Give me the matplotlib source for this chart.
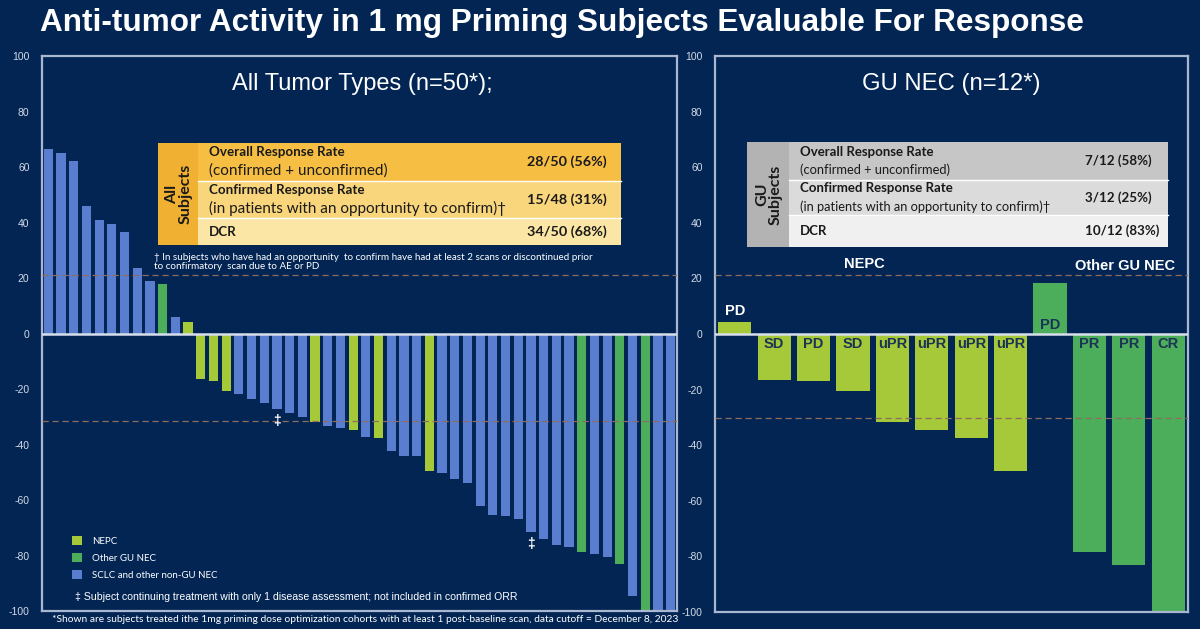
import matplotlib
matplotlib.use("Agg")
import matplotlib.pyplot as plt
from matplotlib.patches import Rectangle, Patch

W, H = 1200, 629
BG = "#022554"
FRAME = "#A9B7D1"
TICKC = "#D3DAE6"
DASH = "#8E6C5E"
DARK_TXT = "#1B3355"
SANS = "Liberation Sans"
CAL = "Lato"

# ---------------- data ----------------
title = "Anti-tumor Activity in 1 mg Priming Subjects Evaluable For Response"

left_title = "All Tumor Types (n=50*);"
left_values = [66.4, 65.2, 62.1, 45.8, 41.0, 39.5, 36.7, 23.5, 18.8, 17.8,
               6.1, 4.2, -16.5, -17.2, -20.9, -21.9, -23.6, -25.2, -27.2, -28.5,
               -30.1, -31.9, -33.5, -34.2, -34.9, -37.2, -37.5, -42.5, -44.2, -44.2,
               -49.5, -50.4, -52.5, -53.9, -62.0, -65.3, -65.8, -66.7, -71.5, -74.1,
               -76.1, -77.0, -78.6, -79.3, -80.4, -83.1, -94.6, -100, -100, -100]
# 0 = NEPC, 1 = Other GU NEC, 2 = SCLC and other non-GU NEC
left_groups = [2, 2, 2, 2, 2, 2, 2, 2, 2, 1,
               2, 0, 0, 0, 0, 2, 2, 2, 2, 2,
               2, 0, 2, 2, 0, 2, 0, 2, 2, 2,
               0, 2, 2, 2, 2, 2, 2, 2, 2, 2,
               2, 2, 1, 2, 2, 1, 2, 1, 2, 2]
group_names = ["NEPC", "Other GU NEC", "SCLC and other non-GU NEC"]
group_colors = ["#A6C93A", "#4CAD5B", "#5A7ECF"]
left_dagger_idx = [18, 38]

right_title = "GU NEC (n=12*)"
right_values = [4.4, -16.5, -17.0, -20.5, -31.6, -34.4, -37.4, -49.3,
                18.4, -78.4, -83.0, -100]
right_groups = [0, 0, 0, 0, 0, 0, 0, 0, 1, 1, 1, 1]
right_labels = ["PD", "SD", "PD", "SD", "uPR", "uPR", "uPR", "uPR",
                "PD", "PR", "PR", "CR"]
right_group_titles = ["NEPC", "Other GU NEC"]

y_ticks = [-100, -80, -60, -40, -20, 0, 20, 40, 60, 80, 100]
thresholds_left = [21.2, -31.6]
thresholds_right = [21.4, -30.3]

left_table_side = "All\nSubjects"
left_table_rows = [
    ("Overall Response Rate", "(confirmed + unconfirmed)", "28/50 (56%)"),
    ("Confirmed Response Rate", "(in patients with an opportunity to confirm)\u2020", "15/48 (31%)"),
    ("DCR", "", "34/50 (68%)"),
]
right_table_side = "GU\nSubjects"
right_table_rows = [
    ("Overall Response Rate", "(confirmed + unconfirmed)", "7/12 (58%)"),
    ("Confirmed Response Rate", "(in patients with an opportunity to confirm)\u2020", "3/12 (25%)"),
    ("DCR", "", "10/12 (83%)"),
]
left_table_colors = ["#F0B132", "#F6BE42", "#F9D57B", "#FCE6A5"]
right_table_colors = ["#B3B3B3", "#C6C6C6", "#DBDBDB", "#F0F0F0"]

dagger_note = ("\u2020 In subjects who have had an opportunity  to confirm have had at least 2 scans or discontinued prior\n"
               "to confirmatory  scan due to AE or PD")
ddagger_note = "\u2021 Subject continuing treatment with only 1 disease assessment; not included in confirmed ORR"
footnote = ("*Shown are subjects treated ithe 1mg priming dose optimization cohorts with at least 1 "
            "post-baseline scan, data cutoff = December 8, 2023")

# ---------------- figure ----------------
fig = plt.figure(figsize=(W / 100, H / 100), dpi=100, facecolor=BG)


def fx(x):
    return x / W


def fy(y):
    return 1 - y / H


def ax_rect(x0, y0, x1, y1):
    return [fx(x0), fy(y1), (x1 - x0) / W, (y1 - y0) / H]


def frect(x0, y0, x1, y1, color, z=5):
    fig.add_artist(Rectangle((fx(x0), fy(y1)), (x1 - x0) / W, (y1 - y0) / H,
                             transform=fig.transFigure, facecolor=color,
                             edgecolor="none", zorder=z))


def style_axes(ax, n, thresholds):
    ax.set_facecolor(BG)
    ax.set_xlim(-0.5, n - 0.5)
    ax.set_ylim(-100, 100)
    ax.set_yticks(y_ticks)
    ax.set_yticklabels([str(t) for t in y_ticks], family=SANS, fontsize=7.5, color=TICKC)
    ax.tick_params(axis="y", length=0, pad=9)
    ax.set_xticks([])
    for s in ax.spines.values():
        s.set_color(FRAME)
        s.set_linewidth(1.6)
    ax.axhline(0, color="#D8DFEC", lw=1.8, zorder=4)
    for t in thresholds:
        ax.axhline(t, color=DASH, lw=0.9, dashes=(5, 3), zorder=3)


fig.text(fx(40), fy(23), title, family=SANS, weight="bold", fontsize=22.7,
         color="white", ha="left", va="center")

# ---- left chart ----
axL = fig.add_axes(ax_rect(42, 56, 677, 611))
style_axes(axL, len(left_values), thresholds_left)
xL = list(range(len(left_values)))
axL.bar(xL, left_values, width=0.72, color=[group_colors[g] for g in left_groups], zorder=2)
for i in left_dagger_idx:
    axL.text(i, left_values[i] - 4.3, "\u2021", family=SANS, weight="bold", fontsize=10,
             color="white", ha="center", va="center", zorder=5)
axL.text(0.505, 0.95, left_title, transform=axL.transAxes, family=SANS, fontsize=17,
         color="white", ha="center", va="center")

handles = [Patch(facecolor=c, edgecolor="none") for c in group_colors]
leg = axL.legend(handles, group_names, loc="upper left",
                 bbox_to_anchor=(fx(72), fy(536)), bbox_transform=fig.transFigure,
                 frameon=False, fontsize=7, handlelength=1.05, handleheight=1.05,
                 handletextpad=1.0, labelspacing=0.75, borderaxespad=0, borderpad=0)
for t in leg.get_texts():
    t.set_color("white")
    t.set_family(CAL)
fig.text(fx(75), fy(597), ddagger_note, family=SANS, fontsize=7.6, color="white",
         ha="left", va="center")

# ---- right chart ----
axR = fig.add_axes(ax_rect(715, 56, 1188, 612))
style_axes(axR, len(right_values), thresholds_right)
xR = list(range(len(right_values)))
axR.bar(xR, right_values, width=0.84, color=[group_colors[g] for g in right_groups], zorder=2)
for i, (v, lab) in enumerate(zip(right_values, right_labels)):
    if i == 0:
        axR.text(i, v + 1.2, lab, family=SANS, weight="bold", fontsize=10.5,
                 color="white", ha="center", va="bottom", zorder=5)
    elif v > 0:
        axR.text(i, 0.8, lab, family=SANS, weight="bold", fontsize=10.5,
                 color=DARK_TXT, ha="center", va="bottom", zorder=5)
    else:
        axR.text(i, -1.0, lab, family=SANS, weight="bold", fontsize=10.5,
                 color=DARK_TXT, ha="center", va="top", zorder=5)
axR.text(3.3, 25.2, right_group_titles[0], family=SANS, weight="bold", fontsize=10.5,
         color="white", ha="center", va="center")
axR.text(9.9, 24.5, right_group_titles[1], family=SANS, weight="bold", fontsize=10.5,
         color="white", ha="center", va="center")
axR.text(0.50, 0.95, right_title, transform=axR.transAxes, family=SANS, fontsize=17.2,
         color="white", ha="center", va="center")


# ---- tables ----
def draw_table(x0, x_side, x1, ys, colors, side, rows, x_txt, x_val, fs_b, fs_r, fs_v):
    frect(x0, ys[0], x_side, ys[-1], colors[0])
    for k in range(3):
        frect(x_side, ys[k], x1, ys[k + 1], colors[k + 1])
    for k in (1, 2):
        fig.add_artist(plt.Line2D([fx(x_side), fx(x1)], [fy(ys[k]), fy(ys[k])],
                                  transform=fig.transFigure, color="white", lw=1, zorder=5.5))
    fig.text(fx((x0 + x_side) / 2 + 1), fy((ys[0] + ys[-1]) / 2), side, family=CAL,
             weight="bold", fontsize=11.5, color="#1A1A1A", rotation=90,
             ha="center", va="center", multialignment="center", linespacing=1.0, zorder=6)
    for k, (a, b, v) in enumerate(rows):
        top, bot = ys[k], ys[k + 1]
        mid = (top + bot) / 2
        if b:
            fig.text(fx(x_txt), fy(mid - 9.5), a, family=CAL, weight="bold", fontsize=fs_b,
                     color="#1A1A1A", ha="left", va="center", zorder=6)
            fig.text(fx(x_txt), fy(mid + 9), b, family=CAL, fontsize=fs_r,
                     color="#1A1A1A", ha="left", va="center", zorder=6)
        else:
            fig.text(fx(x_txt), fy(mid), a, family=CAL, weight="bold", fontsize=fs_b,
                     color="#1A1A1A", ha="left", va="center", zorder=6)
        fig.text(fx(x_val), fy(mid), v, family=CAL, weight="bold", fontsize=fs_v,
                 color="#1A1A1A", ha="left", va="center", zorder=6)


draw_table(158, 198, 621, [143, 181, 218, 245], left_table_colors, left_table_side,
           left_table_rows, 209, 527, 9.6, 11.0, 10.4)
draw_table(747, 789, 1168, [142, 180, 215, 247], right_table_colors, right_table_side,
           right_table_rows, 800, 1085, 9.5, 9.3, 9.6)

fig.text(fx(154), fy(262), dagger_note, family=CAL, fontsize=7.1, color="white",
         ha="left", va="center", linespacing=1.05)

fig.text(fx(52), fy(620), footnote, family=CAL, fontsize=7.35, color="white",
         ha="left", va="center")

fig.savefig("out.png", dpi=100, facecolor=BG)
